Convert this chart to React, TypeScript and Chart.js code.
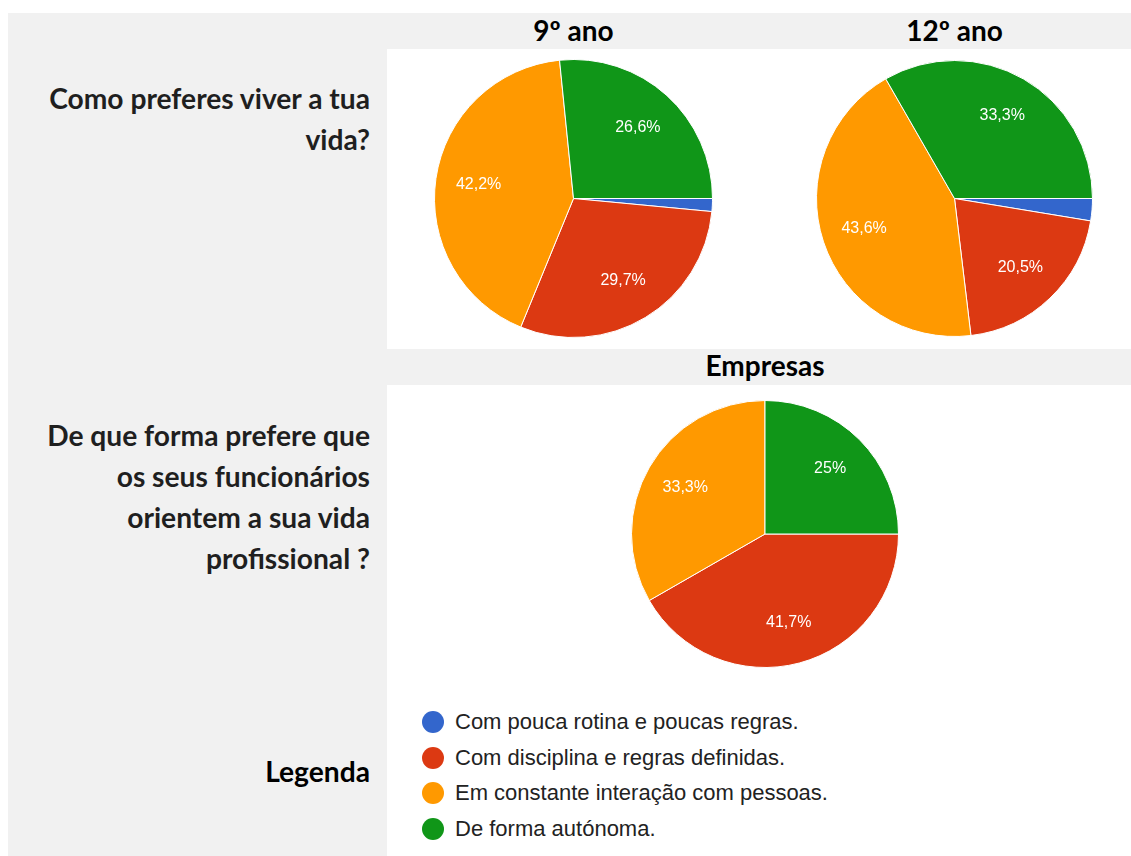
import React, { useEffect, useRef } from "react";
import { Chart, registerables } from "chart.js";

Chart.register(...registerables);

// ---- Data ----
const categories = [
  "Com pouca rotina e poucas regras.",
  "Com disciplina e regras definidas.",
  "Em constante interação com pessoas.",
  "De forma autónoma.",
];
const colors = ["#3366cc", "#dc3912", "#ff9900", "#109618"];

const ano9Values = [1.5, 29.7, 42.2, 26.6];
const ano12Values = [2.6, 20.5, 43.6, 33.3];
const empresasValues = [0, 41.7, 33.3, 25];

const headers = ["9º ano", "12º ano", "Empresas"];
const question1 = ["Como preferes viver a tua", "vida?"];
const question2 = [
  "De que forma prefere que",
  "os seus funcionários",
  "orientem a sua vida",
  "profissional ?",
];
const legendTitle = "Legenda";

const fmtPct = (v: number, total: number) => {
  const p = Math.round((v / total) * 1000) / 10;
  const s = p.toFixed(1).replace(".", ",");
  return (s.endsWith(",0") ? s.slice(0, -2) : s) + "%";
};

const sliceLabels = {
  id: "sliceLabels",
  afterDatasetsDraw(chart: any) {
    const ctx = chart.ctx;
    const ds = chart.data.datasets[0];
    const total = ds.data.reduce((a: number, b: number) => a + b, 0);
    const meta = chart.getDatasetMeta(0);
    ctx.save();
    ctx.fillStyle = "#ffffff";
    ctx.font = "16px Arial, 'Liberation Sans', sans-serif";
    ctx.textAlign = "center";
    ctx.textBaseline = "middle";
    meta.data.forEach((arc: any, i: number) => {
      const v = ds.data[i];
      if (!v || v / total < 0.05) return;
      const { x, y, startAngle, endAngle, outerRadius } = arc.getProps(
        ["x", "y", "startAngle", "endAngle", "outerRadius"],
        true
      );
      const mid = (startAngle + endAngle) / 2;
      const d = outerRadius * 0.69;
      ctx.fillText(fmtPct(v, total), x + Math.cos(mid) * d, y + Math.sin(mid) * d);
    });
    ctx.restore();
  },
};

function Pie({ values, left, top, size }: { values: number[]; left: number; top: number; size: number }) {
  const ref = useRef<HTMLCanvasElement | null>(null);
  useEffect(() => {
    if (!ref.current) return;
    const chart = new Chart(ref.current, {
      type: "pie",
      data: {
        labels: categories,
        datasets: [
          {
            data: values,
            backgroundColor: colors,
            borderColor: "#ffffff",
            borderWidth: 1,
          },
        ],
      },
      options: {
        animation: false,
        responsive: false,
        devicePixelRatio: 1,
        rotation: 90,
        layout: { padding: 0 },
        plugins: { legend: { display: false }, tooltip: { enabled: false } },
        events: [],
      },
      plugins: [sliceLabels],
    });
    return () => chart.destroy();
  }, []);
  return (
    <canvas
      ref={ref}
      width={size}
      height={size}
      style={{ position: "absolute", left, top, width: size, height: size }}
    />
  );
}

const boldFont = "Lato, 'Open Sans', sans-serif";

export default function App() {
  const pies = [
    { values: ano9Values, left: 434, top: 59, size: 279 },
    { values: ano12Values, left: 816, top: 60, size: 277 },
    { values: empresasValues, left: 631, top: 400, size: 268 },
  ];
  const headerTops = [10, 10, 345];
  return (
    <div style={{ position: "absolute", left: 0, top: 0, width: 1131, height: 856, overflow: "hidden", background: "#fff" }}>
      <div style={{ position: "absolute", left: 8, top: 13, width: 1123, height: 843, background: "#f1f1f1" }} />
      <div style={{ position: "absolute", left: 387, top: 49, width: 744, height: 300, background: "#fff" }} />
      <div style={{ position: "absolute", left: 387, top: 385, width: 744, height: 471, background: "#fff" }} />

      {pies.map((p, i) => (
        <Pie key={i} values={p.values} left={p.left} top={p.top} size={p.size} />
      ))}

      {pies.map((p, i) => (
        <div
          key={"h" + i}
          style={{
            position: "absolute",
            left: p.left - 60,
            width: p.size + 120,
            top: headerTops[i],
            textAlign: "center",
            fontFamily: boldFont,
            fontWeight: 700,
            fontSize: 28,
            lineHeight: "41px",
            color: "#000",
            whiteSpace: "nowrap",
          }}
        >
          {headers[i]}
        </div>
      ))}

      {[
        { lines: question1, top: 78, color: "#1f1f1f" },
        { lines: question2, top: 414.5, color: "#1f1f1f" },
        { lines: [legendTitle], top: 750.5, color: "#000" },
      ].map((b, i) => (
        <div
          key={"q" + i}
          style={{
            position: "absolute",
            left: 8,
            width: 362,
            top: b.top,
            textAlign: "right",
            fontFamily: boldFont,
            fontWeight: 700,
            fontSize: 28.2,
            lineHeight: "41px",
            color: b.color,
            whiteSpace: "nowrap",
          }}
        >
          {b.lines.map((l, j) => (
            <div key={j}>{l}</div>
          ))}
        </div>
      ))}

      {categories.map((c, i) => (
        <div
          key={"l" + i}
          style={{
            position: "absolute",
            left: 422,
            top: 722 + i * 35.5 - 14,
            height: 28,
            display: "flex",
            alignItems: "center",
            fontFamily: "Arial, 'Liberation Sans', sans-serif",
            fontSize: 22,
            color: "#222",
            whiteSpace: "nowrap",
          }}
        >
          <span
            style={{
              display: "inline-block",
              width: 22,
              height: 22,
              borderRadius: 11,
              background: colors[i],
              marginRight: 11,
            }}
          />
          {c}
        </div>
      ))}
    </div>
  );
}
